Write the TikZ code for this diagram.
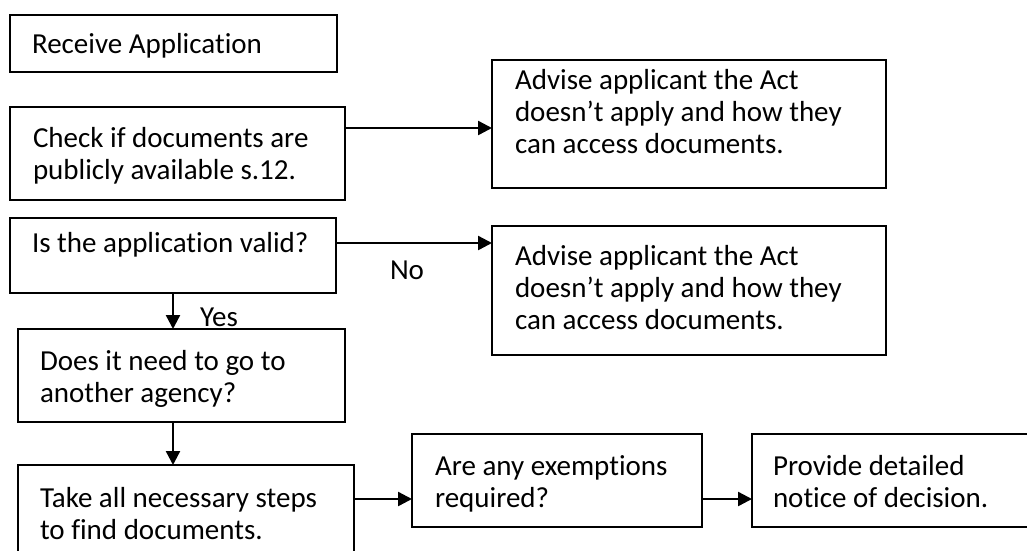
\documentclass[tikz,border=0pt]{standalone}
\usepackage{fontspec}
\setmainfont{Carlito}[Ligatures={NoCommon}]
\usetikzlibrary{arrows.meta}
\begin{document}
\begin{tikzpicture}[x=1pt,y=-1pt,
  box/.style={draw=black, line width=1.5pt, rectangle, inner sep=0pt, outer sep=0pt, anchor=north west},
  txt/.style={inner sep=0pt, outer sep=0pt, anchor=north west, align=left, font=\fontsize{29pt}{32pt}\selectfont},
  lbl/.style={inner sep=0pt, outer sep=0pt, anchor=base west, font=\fontsize{29pt}{32pt}\selectfont},
  arr/.style={line width=2.4pt, -{Triangle[length=14pt,width=14pt]}}]
\useasboundingbox (0,0) rectangle (1027,550);
\fill[white] (0,0) rectangle (1027,550);
\clip (0,0) rectangle (1027,550);
% boxes
\node[box, minimum width=327pt, minimum height=57pt] (recv) at (10,15) {};
\node[box, minimum width=335pt, minimum height=93pt] (check) at (10,107) {};
\node[box, minimum width=394pt, minimum height=128pt] (adv1) at (492,60) {};
\node[box, minimum width=326pt, minimum height=75pt] (valid) at (10,218) {};
\node[box, minimum width=394pt, minimum height=129pt] (adv2) at (492,226) {};
\node[box, minimum width=327pt, minimum height=93pt] (does) at (18,329) {};
\node[box, minimum width=336pt, minimum height=110pt] (take) at (18,465) {};
\node[box, minimum width=290pt, minimum height=93pt] (exempt) at (412,434) {};
\node[box, minimum width=300pt, minimum height=93pt] (provide) at (752,434) {};
% texts (top = baseline - 22.4)
\node[txt] (recvT) at (32,30.6) {\strut Receive Application};
\node[txt] (checkT) at (33,124.6) {\strut Check if documents are\\publicly available s.12.};
\node[txt] (adv1T) at (515,66.6) {\strut Advise applicant the Act\\doesn’t apply and how they\\can access documents.};
\node[txt] (validT) at (32,229.6) {\strut Is the application valid?};
\node[txt] (adv2T) at (515,242.6) {\strut Advise applicant the Act\\doesn’t apply and how they\\can access documents.};
\node[txt] (doesT) at (40,347.6) {\strut Does it need to go to\\another agency?};
\node[txt] (takeT) at (40,484.6) {\strut Take all necessary steps\\to find documents.};
\node[txt] (exemptT) at (435,452.6) {\strut Are any exemptions\\required?};
\node[txt] (provideT) at (773,452.6) {\strut Provide detailed\\notice of decision.};
% labels
\node[lbl] (no) at (390,279) {No};
\node[lbl] (yes) at (200,326) {Yes};
% connectors
\coordinate (r1) at (0,128);
\coordinate (r2) at (0,243);
\coordinate (r3) at (0,499);
\draw[arr] (check.east |- r1) -- (adv1.west |- r1);
\draw[arr] (valid.east |- r2) -- (adv2.west |- r2);
\draw[arr] (valid.south) -- (valid.south |- does.north);
\draw[arr] (does.south -| valid.south) -- (take.north -| valid.south);
\draw[arr] (take.east |- r3) -- (exempt.west |- r3);
\draw[arr] (exempt.east |- r3) -- (provide.west |- r3);
\end{tikzpicture}
\end{document}
